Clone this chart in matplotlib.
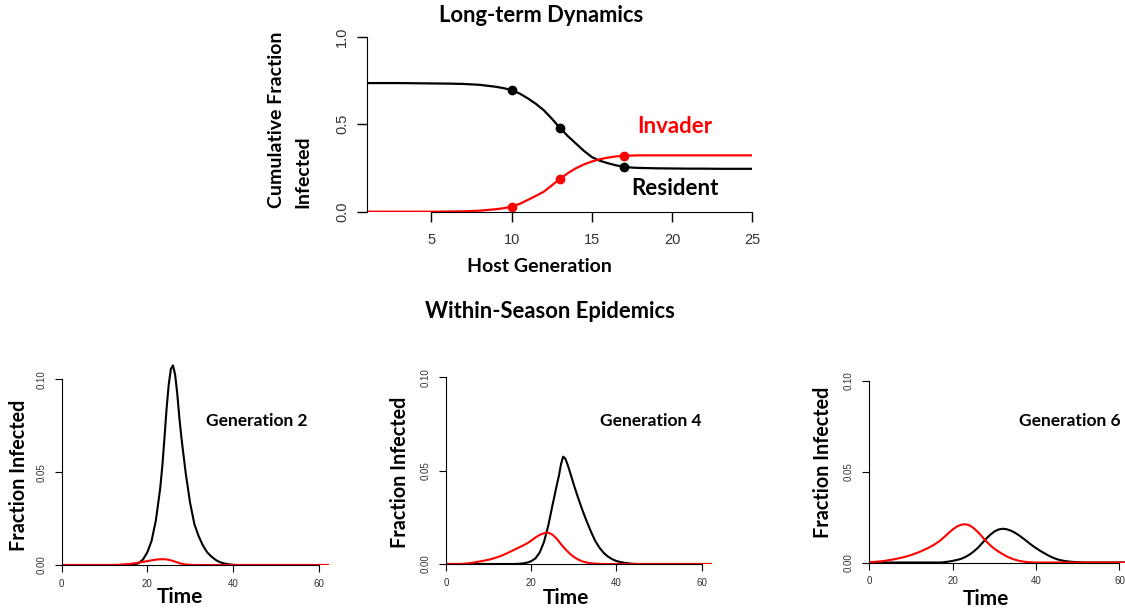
import numpy as np
import matplotlib.pyplot as plt

W, H = 1125, 612

# Long-term dynamics: cumulative fraction infected by host generation
host_gen = [1, 2, 3, 4, 5, 6, 7, 8, 9, 9.5, 10, 10.5, 11, 11.5, 12, 12.5, 13, 13.5, 14, 14.5,
            15, 15.5, 16, 16.5, 17, 17.5, 18, 19, 20, 21, 22, 23, 24, 25]
resident_cum = [0.735, 0.735, 0.735, 0.734, 0.733, 0.732, 0.730, 0.725, 0.714, 0.706,
                0.695, 0.675, 0.648, 0.617, 0.580, 0.532, 0.480, 0.432, 0.390, 0.348,
                0.312, 0.291, 0.277, 0.265, 0.257, 0.252, 0.250, 0.248, 0.247, 0.246,
                0.246, 0.245, 0.245, 0.245]
invader_cum = [0.0, 0.0, 0.0, 0.0, 0.0, 0.001, 0.002, 0.006, 0.014, 0.020,
               0.029, 0.045, 0.067, 0.090, 0.114, 0.150, 0.187, 0.220, 0.248, 0.270,
               0.287, 0.300, 0.309, 0.316, 0.320, 0.321, 0.322, 0.322, 0.322, 0.322,
               0.322, 0.322, 0.322, 0.322]
marked_gens = [10, 13, 17]

# Within-season epidemics: fraction infected over time
gen2_time = [0, 12, 13, 14, 15, 16, 17, 18, 19, 20, 21, 22, 23, 23.5, 24, 24.5, 25, 25.5, 26,
             26.5, 27, 27.5, 28, 29, 30, 31, 32, 33, 34, 35, 36, 37, 38, 39, 40, 41, 63]
gen2_resident = [0, 0, 0, 0, 0, 0, 0.0003, 0.001, 0.003, 0.0068, 0.013, 0.024, 0.041, 0.053,
                 0.068, 0.084, 0.097, 0.1055, 0.1075, 0.1025, 0.0923, 0.079, 0.068, 0.049,
                 0.0335, 0.022, 0.0155, 0.0105, 0.0068, 0.0045, 0.0027, 0.0015, 0.0008,
                 0.0004, 0.0001, 0, 0]
gen2_invader = [0, 0, 0.0001, 0.0002, 0.0004, 0.0006, 0.0009, 0.0013, 0.0017, 0.0021, 0.0025,
                0.0029, 0.0031, 0.0031, 0.0031, 0.0030, 0.0028, 0.0025, 0.0022, 0.0018,
                0.0014, 0.0010, 0.0007, 0.0003, 0.0001, 0, 0, 0, 0, 0, 0, 0, 0, 0, 0, 0, 0]

gen4_time = [0] + list(range(3, 26)) + [26, 26.5, 27, 27.5, 28, 28.5, 29, 29.5] \
    + list(range(30, 46)) + [63]
gen4_resident = [0] * 15 + [0.0001, 0.0003, 0.0007, 0.0015, 0.0030, 0.0062, 0.0118, 0.0205,
                            0.0315, 0.0422, 0.0472, 0.0535, 0.0575, 0.0565, 0.0535, 0.0500,
                            0.0463, 0.0425, 0.0355, 0.0290, 0.0230, 0.0175, 0.0125, 0.0088,
                            0.0060, 0.0040, 0.0026, 0.0016, 0.0010, 0.0006, 0.0003, 0.0001,
                            0, 0]
gen4_invader = [0, 0, 0.0001, 0.0003, 0.0006, 0.0010, 0.0014, 0.0018, 0.0023, 0.0029, 0.0036,
                0.0044, 0.0054, 0.0065, 0.0076, 0.0087, 0.0098, 0.0110, 0.0125, 0.0142,
                0.0156, 0.0165, 0.0168, 0.0157, 0.0135, 0.0121, 0.0106, 0.0093, 0.0080,
                0.0068, 0.0057, 0.0047, 0.0038, 0.0024, 0.0014, 0.0008, 0.0004, 0.0002,
                0.0001] + [0] * 10

gen6_time = list(range(0, 56)) + [63]
gen6_resident = [0] * 18 + [0.0002, 0.0005, 0.0009, 0.0014, 0.0020, 0.0030, 0.0043, 0.0060,
                            0.0080, 0.0105, 0.0130, 0.0153, 0.0171, 0.0182, 0.0186, 0.0183,
                            0.0175, 0.0163, 0.0148, 0.0131, 0.0113, 0.0095, 0.0079, 0.0064,
                            0.0051, 0.0038, 0.0027, 0.0018, 0.0012, 0.0008, 0.0005, 0.0003,
                            0.0002, 0.0001, 0, 0, 0, 0, 0]
gen6_invader = [0.0001, 0.0003, 0.0005, 0.0007, 0.0010, 0.0014, 0.0018, 0.0023, 0.0028, 0.0034,
                0.0041, 0.0049, 0.0058, 0.0068, 0.0079, 0.0091, 0.0105, 0.0121, 0.0141, 0.0162,
                0.0182, 0.0198, 0.0208, 0.0211, 0.0205, 0.0190, 0.0169, 0.0144, 0.0118, 0.0095,
                0.0076, 0.0060, 0.0046, 0.0033, 0.0023, 0.0015, 0.0009, 0.0005, 0.0002,
                0.0001] + [0] * 17

panels = [
    ("Generation 2", gen2_time, gen2_resident, gen2_invader),
    ("Generation 4", gen4_time, gen4_resident, gen4_invader),
    ("Generation 6", gen6_time, gen6_resident, gen6_invader),
]

BOLD = "Lato"
TICK = "Liberation Sans"
TICK_COL = "#333333"


def fx(px):
    return px / W


def fy(py):
    return 1 - py / H


fig = plt.figure(figsize=(W / 100, H / 100), dpi=100)

# --- top panel ---
ax = fig.add_axes([fx(367.3), fy(211.7), fx(752.3) - fx(367.3), fy(36.7) - fy(211.7)])
ax.plot(host_gen, resident_cum, color="black", lw=1.6, solid_capstyle="butt")
ax.plot(host_gen, invader_cum, color="red", lw=1.6, solid_capstyle="butt")
idx = [host_gen.index(g) for g in marked_gens]
ax.plot(marked_gens, [resident_cum[i] for i in idx], "o", color="black", ms=6, clip_on=False)
ax.plot(marked_gens, [invader_cum[i] for i in idx], "o", color="red", ms=6, clip_on=False)
ax.set_xlim(1, 25)
ax.set_ylim(0, 1)
for s in ["top", "right"]:
    ax.spines[s].set_visible(False)
ax.spines["bottom"].set_bounds(5, 25)
ax.spines["left"].set_bounds(0, 1)
ax.set_xticks([5, 10, 15, 20, 25])
ax.set_yticks([0, 0.5, 1.0])
ax.set_yticklabels(["0.0", "0.5", "1.0"], rotation=90, va="center")
ax.tick_params(length=7, width=1, labelsize=10.5, colors="black", labelcolor=TICK_COL)
ax.tick_params(axis="x", pad=8)
ax.tick_params(axis="y", pad=6)
for lab in ax.get_xticklabels() + ax.get_yticklabels():
    lab.set_fontfamily(TICK)
ax.patch.set_visible(False)

fig.text(fx(540.8), fy(15.7), "Long-term Dynamics", ha="center", va="center",
         fontsize=15.8, fontweight="bold", family=BOLD)
fig.text(fx(276.7), fy(208.3), "Cumulative Fraction", rotation=90, ha="center", va="bottom",
         fontsize=14, fontweight="bold", family=BOLD)
fig.text(fx(302.7), fy(208.3), "Infected", rotation=90, ha="center", va="bottom",
         fontsize=14, fontweight="bold", family=BOLD)
fig.text(fx(539), fy(266.7), "Host Generation", ha="center", va="center",
         fontsize=14, fontweight="bold", family=BOLD)
ax.text(20.2, 0.486, "Invader", color="red", ha="center", va="center",
        fontsize=16, fontweight="bold", family=BOLD)
ax.text(20.2, 0.13, "Resident", color="black", ha="center", va="center",
        fontsize=16, fontweight="bold", family=BOLD)

fig.text(fx(550), fy(311.7), "Within-Season Epidemics", ha="center", va="center",
         fontsize=15.8, fontweight="bold", family=BOLD)

# --- bottom panels ---
boxes = [
    (61.7, 565.0, 4.28, 1857),
    (446.0, 564.0, 4.26, 1867),
    (869.3, 562.5, 4.17, 1815),
]
ylabel_pos = [(19, 475.8), (400, 472.5), (823.3, 462.5)]
xlabel_pos = [(180, 597.3), (565.7, 598.3), (985.7, 599.3)]
gen_pos = [(257, 421), (650.3, 421), (1070.3, 421)]
xmax, ymax = 62.5, 0.11

for (name, t, res, inv), (x0, y0, sx, sy), yl, xl, gp in zip(panels, boxes, ylabel_pos,
                                                              xlabel_pos, gen_pos):
    w = xmax * sx
    h = ymax * sy
    a = fig.add_axes([fx(x0), fy(y0), w / W, h / H])
    a.plot(t, res, color="black", lw=1.5)
    a.plot(t, inv, color="red", lw=1.5)
    a.set_xlim(0, xmax)
    a.set_ylim(0, ymax)
    for s in ["top", "right"]:
        a.spines[s].set_visible(False)
    a.spines["bottom"].set_bounds(0, 60)
    a.spines["left"].set_bounds(0, 0.10)
    a.spines["bottom"].set_linewidth(0.8)
    a.spines["left"].set_linewidth(0.8)
    a.set_xticks([0, 20, 40, 60])
    a.set_yticks([0, 0.05, 0.10])
    a.set_yticklabels(["0.00", "0.05", "0.10"], rotation=90, va="center")
    a.tick_params(length=5, width=0.8, labelsize=7, labelcolor=TICK_COL)
    a.tick_params(axis="x", pad=5)
    a.tick_params(axis="y", pad=6)
    for lab in a.get_xticklabels() + a.get_yticklabels():
        lab.set_fontfamily(TICK)
    a.patch.set_visible(False)

    fig.text(fx(yl[0]), fy(yl[1]), "Fraction Infected", rotation=90, ha="center",
             va="center", fontsize=14.2, fontweight="bold", family=BOLD)
    fig.text(fx(xl[0]), fy(xl[1]), "Time", ha="center", va="center",
             fontsize=15, fontweight="bold", family=BOLD)
    fig.text(fx(gp[0]), fy(gp[1]), name, ha="center", va="center",
             fontsize=12.5, fontweight="bold", family=BOLD)

fig.savefig("out.png", dpi=100)
